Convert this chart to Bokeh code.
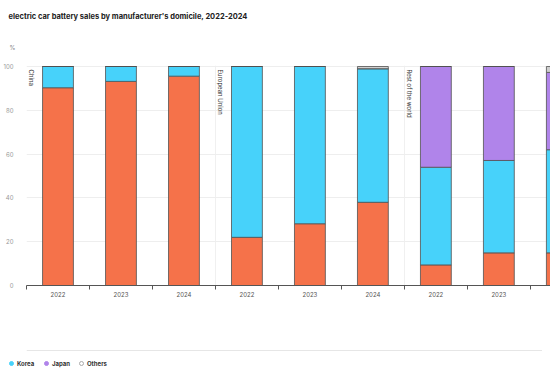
import math
from bokeh.plotting import figure
from bokeh.layouts import column
from bokeh.models import Range1d, FixedTicker, Legend, LegendItem, Title, Span, ColumnDataSource
from bokeh.core.properties import value
from bokeh.embed import file_html
from bokeh.resources import INLINE

# ---- data ----
regions = ["China", "European Union", "Rest of the world"]
years = ["2022", "2023", "2024"]
bar_years = years * 3
china = [90.3, 93.2, 95.6, 22.0, 28.2, 38.0, 9.4, 14.9, 14.9]
korea = [9.7, 6.8, 4.4, 78.0, 71.8, 61.0, 44.6, 42.2, 47.1]
japan = [0.0, 0.0, 0.0, 0.0, 0.0, 0.0, 46.0, 42.9, 35.3]
others = [0.0, 0.0, 0.0, 0.0, 0.0, 1.0, 0.0, 0.0, 2.7]
y_ticks = [0, 20, 40, 60, 80, 100]
legend_labels = ["Korea", "Japan", "Others"]

title_text = "electric car battery sales by manufacturer's domicile, 2022-2024"
unit_text = "%"

C_CHINA = "#F5724A"
C_KOREA = "#47D2FA"
C_JAPAN = "#B084EA"
C_OTHER = "#CFCFCF"
FONT = "Inter"

n = len(bar_years)
xpos = [i + 0.5 for i in range(n)]
group_starts = [i * len(years) for i in range(len(regions))]

src = ColumnDataSource(dict(x=xpos, China=china, Korea=korea, Japan=japan, Others=others))

p = figure(frame_width=524, frame_height=220, output_backend="svg", toolbar_location=None,
           x_range=Range1d(0, 8.32), y_range=Range1d(0, 100.46),
           min_border_left=18, min_border_right=0, min_border_top=0, min_border_bottom=50)
p.outline_line_color = None

p.vbar_stack(["China", "Korea", "Japan", "Others"], x="x", width=0.49, source=src,
             color=[C_CHINA, C_KOREA, C_JAPAN, C_OTHER],
             line_color="#505050", line_width=0.8)

# axes
p.xaxis.ticker = FixedTicker(ticks=xpos, minor_ticks=list(range(n + 1)))
p.xaxis.major_label_overrides = {x: lab for x, lab in zip(xpos, bar_years)}
p.xaxis.major_tick_out = 0
p.xaxis.major_tick_in = 0
p.xaxis.minor_tick_out = 4
p.xaxis.minor_tick_in = 0
p.xaxis.minor_tick_line_color = "#555555"
p.xaxis.axis_line_color = "#555555"
p.xaxis.major_label_text_font_size = "6px"
p.xaxis.major_label_text_color = "#555555"
p.xaxis.major_label_text_font = FONT
p.xaxis.major_label_standoff = 2

p.yaxis.ticker = FixedTicker(ticks=y_ticks)
p.yaxis.axis_line_color = None
p.yaxis.major_tick_line_color = None
p.yaxis.minor_tick_line_color = None
p.yaxis.major_label_text_font_size = "6px"
p.yaxis.major_label_text_color = "#999999"
p.yaxis.major_label_text_font = FONT
p.yaxis.major_label_standoff = 7

p.ygrid.grid_line_color = "#eeeeee"
p.xgrid.ticker = FixedTicker(ticks=group_starts)
p.xgrid.grid_line_color = "#f0f0f0"

# group labels
p.text(x=group_starts, y=[100] * len(regions), text=regions, angle=-math.pi / 2,
       x_offset=5, y_offset=3, text_align="left", text_baseline="middle",
       text_font_size="6px", text_color="#333333", text_font=value(FONT))

# unit (closest to frame) then title (top)
p.add_layout(Title(text=unit_text, align="left", offset=-17, vertical_align="top",
                   standoff=26, text_font_size="6px",
                   text_font_style="normal", text_color="#888888", text_font=FONT), "above")
p.add_layout(Title(text=title_text, align="left", offset=-18, vertical_align="bottom",
                   standoff=19, text_font_size="7.5px",
                   text_font_style="bold", text_color="#222222", text_font=FONT), "above")

# ---- legend strip below the chart ----
LG_H = 35
lg = figure(frame_width=524, frame_height=LG_H, output_backend="svg", toolbar_location=None,
            x_axis_location=None, y_axis_location=None,
            x_range=Range1d(0, 524), y_range=Range1d(0, LG_H),
            min_border_left=18, min_border_right=0, min_border_top=0, min_border_bottom=0)
lg.outline_line_color = None
lg.grid.visible = False
lg.add_layout(Span(location=LG_H - 15, dimension="width", line_color="#e6e6e6", line_width=1))

nan = float("nan")
rk = lg.scatter(x=[nan], y=[nan], marker="circle", size=5, fill_color=C_KOREA, line_color=C_KOREA)
rj = lg.scatter(x=[nan], y=[nan], marker="circle", size=5, fill_color=C_JAPAN, line_color=C_JAPAN)
ro = lg.scatter(x=[nan], y=[nan], marker="circle", size=5, fill_color="white", line_color="#aaaaaa")
legend = Legend(items=[LegendItem(label=legend_labels[0], renderers=[rk]),
                       LegendItem(label=legend_labels[1], renderers=[rj]),
                       LegendItem(label=legend_labels[2], renderers=[ro])],
                location=(0, 2), orientation="horizontal",
                glyph_width=10, glyph_height=10, label_standoff=1, spacing=4,
                padding=0, margin=0, border_line_color=None, background_fill_alpha=0,
                label_text_font_size="6px", label_text_font_style="bold",
                label_text_color="#333333", label_text_font=FONT, label_height=10)
lg.add_layout(legend)

layout = column(p, lg, spacing=0)
open("out.html", "w").write(file_html(layout, INLINE))
